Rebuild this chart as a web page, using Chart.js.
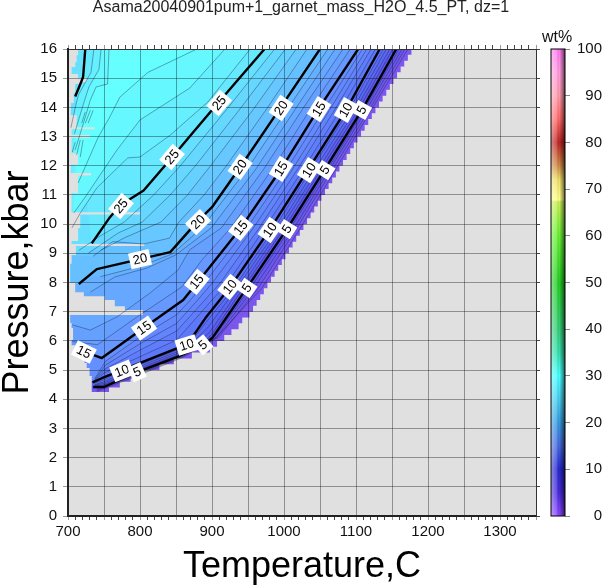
<!DOCTYPE html>
<html>
<head>
<meta charset="utf-8">
<title>Asama garnet H2O</title>
<style>
  body { margin: 0; background: #fff; }
  #wrap { position: relative; width: 602px; height: 587px; overflow: hidden; }
  #mainChart { position: absolute; left: 0; top: 0; }
  #barChart { position: absolute; left: 512px; top: 0; }
</style>
<script src="https://cdn.jsdelivr.net/npm/chart.js@4/dist/chart.umd.min.js"></script>
</head>
<body>
<div id="wrap">
  <canvas id="mainChart" width="602" height="587"></canvas>
  <canvas id="barChart" width="90" height="587"></canvas>
</div>
<script>
// Contours of wt%, as [temperature C, pressure kbar]
const c1 = [[740,4.26],[800,4.84],[860,5.44],[906,6.12],[969,7.8],[1022,9.83],[1071,11.85],[1121,13.9],[1172,16]];
const c2 = [[740,4.3],[800,4.87],[858,5.45],[909,6.12],[964,7.8],[1017,9.83],[1067,11.85],[1118,13.9],[1168,16]];
const c3 = [[740,4.34],[798,4.88],[856,5.46],[906,6.12],[958,7.8],[1013,9.83],[1063,11.85],[1114,13.9],[1164,16]];
const c4 = [[740,4.38],[796,4.9],[853,5.45],[903,6.12],[953,7.8],[1008,9.83],[1060,11.85],[1111,13.9],[1160,16]];
const c5 = [[735,4.42],[750,4.42],[795,4.92],[851,5.44],[888,5.85],[901,6.12],[948,7.8],[1004,9.83],[1056,11.85],[1108,13.9],[1156,16]];
const c6 = [[737,4.45],[750,4.5],[795,4.98],[851,5.5],[885,5.9],[899,6.2],[943,7.8],[999,9.82],[1051,11.85],[1103,13.9],[1151,16]];
const c7 = [[737,4.48],[750,4.55],[795,5.02],[851,5.56],[880,5.95],[897,6.3],[939,7.8],[994,9.81],[1047,11.85],[1099,13.9],[1147,16]];
const c8 = [[737,4.5],[750,4.6],[790,5.04],[851,5.62],[875,6],[894,6.45],[934,7.8],[990,9.8],[1042,11.85],[1095,13.9],[1142,16]];
const c9 = [[736,4.55],[748,4.65],[785,5.05],[851,5.68],[870,5.95],[892,6.65],[930,7.8],[985,9.8],[1037,11.85],[1090,13.9],[1138,16]];
const c10 = [[734,4.58],[747,4.72],[775,5],[852,5.75],[865,5.85],[892,6.82],[925,7.84],[980,9.8],[1033,11.85],[1086,13.9],[1133,16]];
const c11 = [[737,4.6],[750,4.9],[800,5.46],[851,6.03],[900,7.4],[922,8],[973,9.85],[1026,11.85],[1078,13.9],[1127,16]];
const c12 = [[737,4.63],[751,5.03],[800,5.68],[851,6.34],[890,7.4],[912,8],[965,9.85],[1018,11.85],[1070,13.9],[1121,16]];
const c13 = [[737,4.66],[752,5.17],[800,5.9],[851,6.6],[880,7.4],[901,8],[957,9.85],[1011,11.85],[1063,13.9],[1115,16]];
const c14 = [[737,4.7],[752,5.3],[800,6.13],[851,6.9],[870,7.4],[890,8],[948,9.85],[1003,11.85],[1055,13.9],[1109,16]];
const c15 = [[710,5.79],[724,5.62],[747,5.41],[805,6.44],[860,7.4],[880,8.01],[940,9.87],[996,11.89],[1048,13.95],[1103,16]];
const c16 = [[706,5.98],[741,5.87],[800,6.89],[858,7.85],[886,8.77],[926,9.87],[984,11.89],[1037,13.95],[1092,16]];
const c17 = [[706,6.55],[731,6.37],[768,6.82],[814,7.64],[853,8.43],[869,9.12],[913,9.87],[972,11.89],[1026,13.95],[1082,16]];
const c18 = [[731,7.67],[765,8.19],[810,8.5],[850,8.95],[899,9.87],[961,11.89],[1016,13.95],[1071,16]];
const c19 = [[745,8.2],[800,8.55],[845,8.98],[886,9.87],[949,11.89],[1005,13.95],[1061,16]];
const c20 = [[715,7.95],[740,8.46],[800,8.8],[842,9.04],[879,10.07],[900,10.58],[939,11.95],[994,13.95],[1050,16]];
const c21 = [[735,8.9],[762,9.4],[805,9.32],[841,9.52],[854,10.07],[889,11],[920,12],[976,13.95],[1032,16]];
const c22 = [[745,9.1],[780,9.55],[829,10.07],[866,11],[898,12],[958,13.95],[1017,16]];
const c23 = [[728,9],[770,9.7],[803,10.07],[842,11],[877,12],[939,13.95],[1002,16]];
const c24 = [[715,9.1],[745,9.6],[778,10.07],[819,11],[856,12],[921,13.95],[987,16]];
const c25 = [[733,9.34],[758,10.23],[772,10.64],[805,11.15],[845,12.3],[873,13.12],[908,14.14],[973,16]];
const c26 = [[705.5,9.87],[717,10.38],[740,11.24],[783,12.27],[800,12.3],[842,13.05],[894,14.18],[953,16]];
const c27 = [[708,10.38],[724,10.93],[768,12.54],[800,13.57],[869,14.66],[918,16]];
const c28 = [[714,11.41],[742,12.98],[758,13.67],[772,14.35],[811,15.2],[879,16]];
// the same levels come back along the left side of the field
const c25Left = [[724,16],[721,15.05],[718,14.85],[710,14.37]];
const c26Left = [[736,16],[732,15.2],[715,14.45],[712,14.2],[704,13.3]];
const c27Left = [[746,16],[743,15.3],[729,14.7],[720,14],[709,13.1]];
const c28Left = [[757,16],[755,14.8],[739,14.7],[731,14.25],[722,13.5],[710,12.54]];
const leftPieces = [
  [[719,13.46],[724,13.84]], [[724,13.46],[731,13.9]], [[728,13.46],[735,13.9]],
  [[706,12.47],[710,12.81]], [[712,12.37],[717,12.88]], [[717,12.3],[721,12.88]]
];

const levels = [c1,c2,c3,c4,c5,c6,c7,c8,c9,c10,c11,c12,c13,c14,c15,c16,c17,c18,c19,c20,c21,c22,c23,c24,c25,c26,c27,c28];

// fill of the band above each level, index 0 is the 0-1 wt% band
const bandColors = ['#7a55ee','#7458ef','#6a58ee','#6458ee','#5e58ee','#5a58ee','#5a60f2','#5a66f4','#5a6cf6','#5c72f8',
  '#5e78fa','#607efb','#6284fc','#6489fd','#658ffe','#6698ff','#66a0ff','#66a8ff','#66b0ff','#66b8ff',
  '#66c0ff','#66c8ff','#66d0ff','#66d8ff','#66e0ff','#66e8ff','#66f0ff','#66f8ff','#66ffff'];

// edge of the calculated field, staircase as the model grid leaves it
const leftEdge = [[714,15.79],[712,15.55],[710,15.38],[705,15.14],[714,15],[726,14.87],[717,14.8],[710,14.49],[708,14.15],[704,13.74],
  [712,13.32],[737,13.25],[705,13.05],[730,12.96],[705,12.43],[714,12.03],[704,11.75],[732,11.67],[714,11.06],[705,10.41],
  [800,10.33],[717,9.87],[714,9.42],[705,9.32],[806,9.25],[711,8.94],[705,8.64],[703,7.98],[710,7.67],[722,7.53],
  [751,7.4],[765,7.19],[779,7.06],[804,6.89],[703,6.61],[705,6.44],[707,6.03],[705,5.85],[711,5.62],[717,5.44],
  [723,5.24],[726,5.07],[730,4.8],[733,4.59],[733,4.25]];
const rightEdge = [[757,4.25],[757,4.4],[772,4.6],[787,4.8],[807,5],[827,5.2],[847,5.4],[872,5.6],[897,5.8],[907,6],[917,6.2],[927,6.4],
  [937,6.6],[942,6.8],[952,7],[957,7.2],[962,7.4],[967,7.6],[972,7.8],[977,8],[982,8.2],[987,8.4],[992,8.6],[997,8.8],
  [1002,9],[1007,9.2],[1012,9.4],[1017,9.6],[1022,9.8],[1027,10],[1032,10.2],[1037,10.4],[1042,10.6],[1047,10.8],[1052,11],
  [1057,11.2],[1062,11.4],[1067,11.6],[1072,11.8],[1077,12],[1082,12.2],[1087,12.4],[1092,12.6],[1097,12.8],[1102,13],
  [1107,13.2],[1112,13.4],[1117,13.6],[1122,13.8],[1127,14],[1132,14.2],[1137,14.4],[1142,14.6],[1147,14.8],[1152,15],
  [1157,15.2],[1162,15.4],[1167,15.6],[1172,15.8],[1177,16]];

// contour labels: level, temperature, pressure
const contourLabels = [
  [25,910,14.15],[25,844.5,12.3],[25,773.6,10.62],
  [20,996,13.98],[20,939,11.96],[20,880.6,10.07],[20,800,8.8],
  [15,1048.6,13.94],[15,996,11.89],[15,940,9.87],[15,879,8.02],[15,805.6,6.44],[15,722,5.62],
  [10,1086,13.91],[10,1035,11.85],[10,980.6,9.8],[10,925,7.85],[10,865,5.86],[10,775,4.97],
  [5,1108,13.91],[5,1057,11.85],[5,1004,9.83],[5,948.6,7.81],[5,887.5,5.86],[5,796,4.93]
];

// colour bar: value and colour
const barValues = [0,5,10,15,20,25,30,35,40,50,60,67.5,67.6,72,75,80,85,90,95,100];
const barColors = ['#8a44ff','#4428d8','#2626cc','#4466dd','#3399dd','#44ccee','#44ffff','#33ddaa','#33cc77','#22cc22','#66ee33','#ccee55',
  '#ffff88','#eedd66','#cc8844','#bb2222','#ff6666','#ff99aa','#ff99dd','#ff77ee'];

const xTitle = 'Temperature,C';
const yTitle = 'Pressure,kbar';
const chartTitle = 'Asama20040901pum+1_garnet_mass_H2O_4.5_PT, dz=1';
const FONT = '"Liberation Sans", Arial, sans-serif';

function toPoints(line) {
  return line.map(p => ({ x: p[0], y: p[1] }));
}

function polygon(line, color, stepped) {
  return { data: toPoints(line), showLine: true, fill: 'shape', backgroundColor: color, borderWidth: 0,
    pointRadius: 0, stepped: !!stepped, tension: 0 };
}

function stroke(line, width, color) {
  return { data: toPoints(line), showLine: true, fill: false, borderColor: color, borderWidth: width,
    pointRadius: 0, tension: 0, borderJoinStyle: 'round' };
}

function buildDatasets() {
  const sets = [];
  // band 0 fills the whole plot, the higher bands paint over it
  sets.push(polygon([[700,0],[1350,0],[1350,16],[700,16]], bandColors[0]));
  levels.forEach((line, i) => {
    const level = i + 1;
    let shape;
    if (level === 25) shape = line.concat(c25Left);
    else if (level === 26) shape = line.concat(c26Left);
    else if (level === 27) shape = line.concat(c27Left);
    else if (level === 28) shape = line.concat(c28Left);
    else shape = line.concat([[700,16],[700,line[0][1]]]);
    sets.push(polygon(shape, bandColors[level]));
  });
  // everything outside the field is grey
  const mask = [[700,16]].concat(leftEdge, rightEdge, [[1350,16],[1350,0],[700,0],[700,16]]);
  sets.push(polygon(mask, '#e0e0e0', true));

  const thin = 'rgba(20,30,60,0.55)';
  levels.forEach((line, i) => {
    if ((i + 1) % 5 !== 0) sets.push(stroke(line, 0.7, thin));
  });
  [c26Left, c27Left, c28Left].concat(leftPieces).forEach(line => sets.push(stroke(line, 0.7, thin)));
  levels.forEach((line, i) => {
    if ((i + 1) % 5 === 0) sets.push(stroke(line, 2.4, '#000'));
  });
  sets.push(stroke(c25Left, 2.4, '#000'));
  sets.forEach((s, i) => { s.order = sets.length - i; });
  return sets;
}

// white tags with the level, turned along the contour
const labelPlugin = {
  id: 'contourTags',
  afterDraw(chart) {
    const { ctx, scales } = chart;
    const px = scales.x, py = scales.y;
    contourLabels.forEach(lab => {
      const line = levels[lab[0] - 1];
      let best = 0, bestDist = Infinity;
      for (let i = 0; i < line.length - 1; i++) {
        const mx = (px.getPixelForValue(line[i][0]) + px.getPixelForValue(line[i + 1][0])) / 2;
        const my = (py.getPixelForValue(line[i][1]) + py.getPixelForValue(line[i + 1][1])) / 2;
        const d = Math.hypot(mx - px.getPixelForValue(lab[1]), my - py.getPixelForValue(lab[2]));
        if (d < bestDist) { bestDist = d; best = i; }
      }
      const dx = px.getPixelForValue(line[best + 1][0]) - px.getPixelForValue(line[best][0]);
      const dy = py.getPixelForValue(line[best + 1][1]) - py.getPixelForValue(line[best][1]);
      let angle = Math.atan2(dy, dx);
      if (angle > Math.PI / 2) angle -= Math.PI;
      if (angle < -Math.PI / 2) angle += Math.PI;
      const text = String(lab[0]);
      ctx.save();
      ctx.translate(px.getPixelForValue(lab[1]), py.getPixelForValue(lab[2]));
      ctx.rotate(angle);
      const w = text.length > 1 ? 21 : 14;
      ctx.fillStyle = '#fff';
      ctx.fillRect(-w / 2, -8, w, 16);
      ctx.fillStyle = '#000';
      ctx.font = '13px ' + FONT;
      ctx.textAlign = 'center';
      ctx.textBaseline = 'middle';
      ctx.fillText(text, 0, 0.5);
      ctx.restore();
    });
  }
};

function tickColor(ctx) {
  return ctx.tick && ctx.tick.value % 50 === 0 ? '#9a9a9a' : '#444';
}

const mainChart = new Chart(document.getElementById('mainChart'), {
  type: 'scatter',
  data: { datasets: buildDatasets() },
  plugins: [labelPlugin],
  options: {
    responsive: false,
    animation: false,
    events: [],
    plugins: {
      legend: { display: false },
      tooltip: { enabled: false },
      title: {
        display: true,
        text: chartTitle,
        color: '#222',
        font: { family: FONT, size: 16, weight: 'normal', lineHeight: 1 },
        padding: { top: 0, bottom: 28 }
      }
    },
    scales: {
      x: {
        type: 'linear', position: 'bottom', min: 700, max: 1350,
        afterFit: s => { s.height = 71; },
        ticks: {
          stepSize: 10, autoSkip: false, maxRotation: 0, color: '#111',
          font: { family: FONT, size: 15 }, padding: 3,
          callback: v => (v % 100 === 0 && v <= 1300 ? String(v) : '')
        },
        grid: { z: 1, tickLength: 4, tickColor: tickColor,
          color: ctx => (ctx.tick && ctx.tick.value % 50 === 0 ? 'rgba(0,0,0,0.36)' : 'rgba(0,0,0,0)') },
        border: { color: '#222', width: 2, z: 2 },
        title: { display: true, text: xTitle, color: '#000', font: { family: FONT, size: 36, lineHeight: 1.1 }, padding: { top: 0, bottom: 0 } }
      },
      xTop: {
        type: 'linear', position: 'top', min: 700, max: 1350,
        afterFit: s => { s.height = 5; },
        ticks: { stepSize: 10, autoSkip: false, display: false },
        grid: { drawOnChartArea: false, tickLength: 4, tickColor: tickColor },
        border: { color: '#333', width: 1, z: 2 }
      },
      y: {
        type: 'linear', position: 'left', min: 0, max: 16,
        afterFit: s => { s.width = 68; },
        ticks: { stepSize: 1, autoSkip: false, color: '#111', font: { family: FONT, size: 15 }, padding: 6 },
        grid: { z: 1, tickLength: 5, tickColor: '#9a9a9a', color: 'rgba(0,0,0,0.36)' },
        border: { color: '#222', width: 2, z: 2 },
        title: { display: true, text: yTitle, color: '#000', font: { family: FONT, size: 36, lineHeight: 1 }, padding: { top: 0, bottom: 0 } }
      },
      yRight: {
        type: 'linear', position: 'right', min: 0, max: 16,
        afterFit: s => { s.width = 66; },
        ticks: { stepSize: 1, display: false },
        grid: { drawOnChartArea: false, tickLength: 4, tickColor: '#444' },
        border: { color: '#333', width: 1, z: 2 }
      }
    }
  }
});

// light from the left, dark to the right, over the colour column
const barShade = {
  id: 'barShade',
  afterDatasetsDraw(chart) {
    const { ctx, chartArea: a } = chart;
    const g = ctx.createLinearGradient(a.left, 0, a.right, 0);
    g.addColorStop(0, 'rgba(255,255,255,0.45)');
    g.addColorStop(0.4, 'rgba(255,255,255,0.2)');
    g.addColorStop(0.6, 'rgba(0,0,0,0)');
    g.addColorStop(1, 'rgba(0,0,0,0.6)');
    ctx.save();
    ctx.fillStyle = g;
    ctx.fillRect(a.left, a.top, a.right - a.left, a.bottom - a.top);
    ctx.strokeStyle = '#000';
    ctx.lineWidth = 1;
    ctx.strokeRect(a.left, a.top, a.right - a.left, a.bottom - a.top);
    ctx.restore();
  }
};

const barChart = new Chart(document.getElementById('barChart'), {
  type: 'bar',
  data: {
    labels: ['wt%'],
    datasets: [{
      data: [[0, 100]],
      barPercentage: 1,
      categoryPercentage: 1,
      borderWidth: 0,
      backgroundColor(ctx) {
        const a = ctx.chart.chartArea;
        if (!a) return '#888';
        const g = ctx.chart.ctx.createLinearGradient(0, a.bottom, 0, a.top);
        barValues.forEach((v, i) => g.addColorStop(v / 100, barColors[i]));
        return g;
      }
    }]
  },
  plugins: [barShade],
  options: {
    responsive: false,
    animation: false,
    events: [],
    layout: { padding: { bottom: 71 } },
    plugins: {
      legend: { display: false },
      tooltip: { enabled: false },
      title: {
        display: true,
        text: 'wt%',
        color: '#111',
        font: { family: FONT, size: 16, weight: 'normal' },
        padding: { top: 28.4, bottom: 1.4 }
      }
    },
    scales: {
      x: { display: false },
      // empty axis, keeps the column clear of the plot so the title centres over it
      yLeft: {
        position: 'left', min: 0, max: 100,
        afterFit: s => { s.width = 39; },
        ticks: { display: false },
        grid: { display: false },
        border: { display: false }
      },
      y: {
        position: 'right', min: 0, max: 100,
        afterFit: s => { s.width = 37; },
        ticks: { stepSize: 10, color: '#111', font: { family: FONT, size: 15 }, crossAlign: 'far', padding: 2 },
        grid: { drawOnChartArea: false, tickLength: 5, tickColor: '#888' },
        border: { display: false }
      }
    }
  }
});
</script>
</body>
</html>
